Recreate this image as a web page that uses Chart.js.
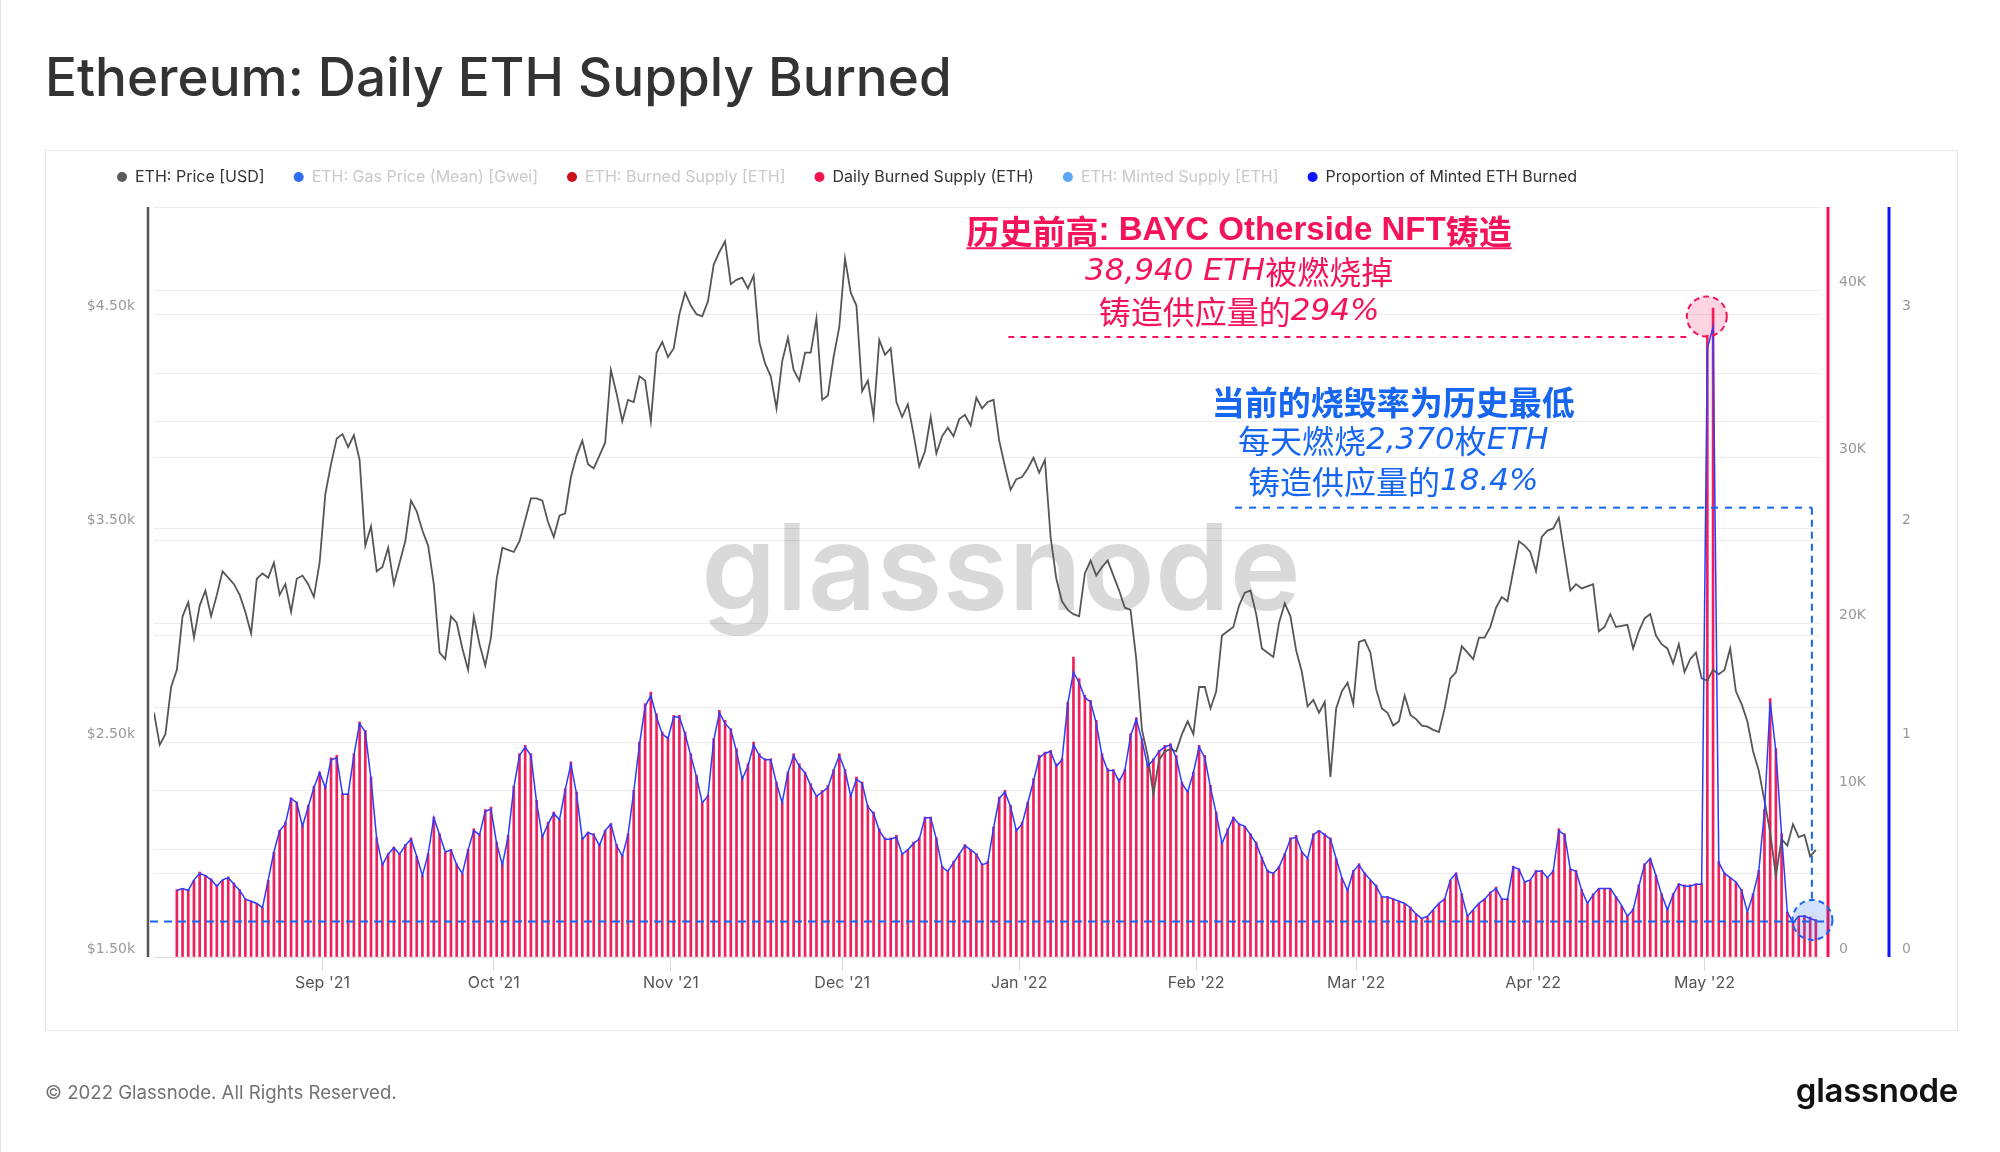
<!DOCTYPE html>
<html>
<head>
<meta charset="utf-8">
<title>Ethereum: Daily ETH Supply Burned</title>
<script src="https://cdn.jsdelivr.net/npm/chart.js@4.4.1/dist/chart.umd.min.js"></script>
<style>
    html, body { margin: 0; padding: 0; background: #fff; }
    body { width: 2000px; height: 1152px; position: relative; overflow: hidden; font-family: Inter, "Noto Sans", sans-serif; }
    .page-edge { position: absolute; left: 0; top: 0; width: 1px; height: 1152px; background: #e2e2e2; }
    .title { position: absolute; left: 45px; top: 50px; font-size: 53px; line-height: 54px; font-weight: 500; color: #333; white-space: nowrap; }
    .card { position: absolute; left: 45px; top: 150px; width: 1911px; height: 879px; border: 1px solid #e6e6e6; }
    .chart-wrap { position: absolute; left: 0; top: 0; width: 2000px; height: 1152px; }
    .copyright { position: absolute; left: 45px; top: 1081px; font-size: 18.6px; line-height: 22px; color: #737373; white-space: nowrap; }
    .logo { position: absolute; right: 42px; top: 1070px; font-size: 33px; line-height: 40px; font-weight: 600; color: #111; letter-spacing: -0.3px; }
</style>
</head>
<body>
<div class="page-edge"></div>
<div class="title">Ethereum: Daily ETH Supply Burned</div>
<div class="card"></div>
<div class="chart-wrap"><canvas id="burnChart" width="2000" height="1152"></canvas></div>
<div class="copyright">© 2022 Glassnode. All Rights Reserved.</div>
<div class="logo">glassnode</div>

<script>
// Data (daily, Aug 2021 - May 2022)

// ETH price in USD, one value per day starting 2021-08-02
const priceStartDate = '2021-08-02';
const priceUsd = [
    2640, 2490, 2540, 2760, 2840, 3090, 3155, 2990, 3140, 3210,
    3090, 3190, 3300, 3270, 3240, 3190, 3110, 3010, 3265, 3290,
    3270, 3340, 3190, 3240, 3110, 3265, 3280, 3240, 3180, 3340,
    3660, 3800, 3920, 3940, 3880, 3935, 3820, 3420, 3510, 3300,
    3320, 3410, 3240, 3340, 3440, 3630, 3580, 3490, 3420, 3240,
    2920, 2890, 3090, 3060, 2940, 2840, 3090, 2960, 2860, 2990,
    3265, 3410, 3400, 3390, 3440, 3540, 3640, 3640, 3630, 3530,
    3460, 3560, 3570, 3740, 3840, 3910, 3800, 3780, 3840, 3900,
    4240, 4130, 4000, 4100, 4090, 4210, 4190, 4000, 4320, 4370,
    4300, 4340, 4500, 4600, 4540, 4500, 4490, 4560, 4730, 4790,
    4840, 4640, 4660, 4670, 4620, 4680, 4370, 4270, 4210, 4060,
    4280, 4390, 4240, 4190, 4320, 4320, 4480, 4100, 4120, 4300,
    4440, 4760, 4600, 4540, 4140, 4190, 4020, 4380, 4310, 4340,
    4090, 4020, 4080, 3940, 3790, 3860, 4020, 3850, 3930, 3970,
    3930, 4010, 4030, 3980, 4110, 4060, 4090, 4100, 3910, 3790,
    3680, 3730, 3740, 3780, 3830, 3760, 3820, 3460, 3265, 3160,
    3120, 3100, 3090, 3290, 3350, 3280, 3320, 3350, 3280, 3210,
    3130, 3120, 2890, 2560, 2440, 2260, 2420, 2460, 2470, 2460,
    2540, 2600, 2540, 2760, 2760, 2660, 2740, 3000, 3020, 3040,
    3140, 3200, 3210, 3100, 2940, 2920, 2900, 3060, 3150, 3090,
    2930, 2830, 2670, 2700, 2640, 2690, 2340, 2660, 2740, 2780,
    2680, 2970, 2980, 2920, 2750, 2660, 2640, 2580, 2600, 2720,
    2630, 2610, 2580, 2575, 2560, 2550, 2660, 2800, 2830, 2950,
    2920, 2890, 2990, 2990, 3040, 3130, 3180, 3160, 3300, 3440,
    3420, 3390, 3300, 3460, 3490, 3500, 3550, 3380, 3210, 3240,
    3220, 3230, 3240, 3020, 3040, 3100, 3040, 3045, 3050, 2940,
    3020, 3080, 3100, 3000, 2960, 2940, 2870, 2960, 2830, 2890,
    2920, 2800, 2790, 2840, 2820, 2840, 2940, 2740, 2680, 2600,
    2460, 2370, 2230, 2080, 1880, 2050, 2020, 2120, 2060, 2070,
    1970, 2000
];

// Daily burned supply in ETH, one value per day starting 2021-08-06
const burnStartDate = '2021-08-06';
const dailyBurnedEth = [
    4040, 4100, 4050, 4600, 5100, 4900, 4700, 4330, 4600, 4800,
    4450, 4050, 3480, 3350, 3200, 2950, 4600, 6300, 7600, 8100,
    9550, 9300, 7900, 9100, 10260, 11100, 10260, 11950, 12100, 9800,
    9800, 12200, 14100, 13600, 10800, 7150, 5600, 6200, 6600, 6200,
    6750, 7150, 6050, 4900, 6200, 8400, 7400, 6300, 6450, 5600,
    5000, 6450, 7700, 7400, 8850, 9000, 6900, 5600, 7300, 10260,
    12200, 12700, 12200, 9400, 7300, 8100, 8700, 8250, 10100, 11700, 9900,
    7150, 7500, 7400, 6800, 7600, 8000, 6750, 6100, 7400, 10000,
    12900, 15200, 15900, 14600, 13500, 13200, 14500, 14500, 13500, 12200,
    10900, 9300, 9700, 13100, 14800, 14200, 13700, 12500, 10800, 11600,
    12900, 12200, 11900, 11900, 10500, 9300, 11100, 12200, 11600, 11100,
    10400, 9700, 10000, 10300, 11250, 12200, 11250, 9700, 10800, 10500,
    9100, 8700, 7700, 7150, 7150, 7300, 6200, 6450, 6900, 7150,
    8400, 8400, 7150, 5450, 5200, 5750, 6200, 6750, 6450, 6200,
    5600, 5750, 7800,
    9600, 10000, 9100, 7700, 8100, 9300, 10700, 12100, 12300, 12400,
    11600, 11900, 15300, 18000, 16700, 15700, 15400, 14200, 12200, 11300,
    11250, 10700, 11250, 13400, 14350, 13100, 11600, 11900, 12400, 12700,
    12800, 12100, 10500, 10000, 11100, 12700, 12100, 10300, 8700, 6900,
    7700, 8400, 8000, 7850, 7400, 6900, 6000, 5200, 5050, 5450,
    6200, 7150, 7300, 6300, 5900, 7400, 7600, 7400, 7150, 5900,
    4750, 4050, 5200, 5600, 5050, 4600, 4330, 3630, 3630, 3500,
    3350, 3200, 3000,
    2600, 2300, 2400, 2800, 3200, 3500, 4600, 5050, 3800, 2500,
    2800, 3200, 3500, 3900, 4200, 3500, 3500, 5450, 5300, 4500,
    4600, 5200, 5200, 4750, 5200, 7700, 7400, 5300, 5200, 4050,
    3200, 3800, 4100, 4100, 4100, 3630, 3050, 2500, 2900, 4330,
    5600, 5900, 4900, 3800, 2900, 3800, 4400, 4330, 4330, 4400,
    4400, 37300, 38940, 5740, 5050, 4750, 4500, 4050, 2700, 3800,
    5200, 8850, 15500, 12500, 7400, 2700, 2100, 2400, 2500, 2400, 2250
];

// Proportion of minted ETH burned (1 = 100%), same days as dailyBurnedEth
const burnedShareOfMinted = [
    0.31, 0.32, 0.31, 0.36, 0.39, 0.38, 0.36, 0.33, 0.36, 0.37,
    0.34, 0.31, 0.27, 0.26, 0.25, 0.23, 0.36, 0.49, 0.59, 0.62,
    0.74, 0.72, 0.61, 0.70, 0.79, 0.86, 0.79, 0.92, 0.93, 0.76,
    0.76, 0.94, 1.09, 1.05, 0.83, 0.55, 0.43, 0.48, 0.51, 0.48,
    0.52, 0.55, 0.47, 0.38, 0.48, 0.65, 0.57, 0.49, 0.50, 0.43,
    0.39, 0.50, 0.59, 0.57, 0.68, 0.69, 0.53, 0.43, 0.56, 0.79,
    0.94, 0.98, 0.94, 0.72, 0.56, 0.62, 0.67, 0.64, 0.78, 0.90, 0.76,
    0.55, 0.58, 0.57, 0.52, 0.59, 0.62, 0.52, 0.47, 0.57, 0.77,
    0.99, 1.17, 1.22, 1.12, 1.04, 1.02, 1.12, 1.12, 1.04, 0.94,
    0.84, 0.72, 0.75, 1.01, 1.14, 1.09, 1.06, 0.96, 0.83, 0.89,
    0.99, 0.94, 0.92, 0.92, 0.81, 0.72, 0.86, 0.94, 0.89, 0.86,
    0.80, 0.75, 0.77, 0.79, 0.87, 0.94, 0.87, 0.75, 0.83, 0.81,
    0.70, 0.67, 0.59, 0.55, 0.55, 0.56, 0.48, 0.50, 0.53, 0.55,
    0.65, 0.65, 0.55, 0.42, 0.40, 0.44, 0.48, 0.52, 0.50, 0.48,
    0.43, 0.44, 0.60,
    0.74, 0.77, 0.70, 0.59, 0.62, 0.72, 0.82, 0.93, 0.95, 0.96,
    0.89, 0.92, 1.18, 1.33, 1.28, 1.21, 1.19, 1.09, 0.94, 0.87,
    0.87, 0.82, 0.87, 1.03, 1.11, 1.01, 0.89, 0.92, 0.96, 0.98,
    0.99, 0.93, 0.81, 0.77, 0.86, 0.98, 0.93, 0.79, 0.67, 0.53,
    0.59, 0.65, 0.62, 0.61, 0.57, 0.53, 0.46, 0.40, 0.39, 0.42,
    0.48, 0.55, 0.56, 0.49, 0.46, 0.57, 0.59, 0.57, 0.55, 0.46,
    0.37, 0.31, 0.40, 0.43, 0.39, 0.36, 0.33, 0.28, 0.28, 0.27,
    0.26, 0.25, 0.23,
    0.20, 0.18, 0.19, 0.22, 0.25, 0.27, 0.36, 0.39, 0.29, 0.19,
    0.22, 0.25, 0.27, 0.30, 0.32, 0.27, 0.27, 0.42, 0.41, 0.35,
    0.36, 0.40, 0.40, 0.37, 0.40, 0.59, 0.57, 0.41, 0.40, 0.31,
    0.25, 0.29, 0.32, 0.32, 0.32, 0.28, 0.24, 0.19, 0.22, 0.33,
    0.43, 0.46, 0.38, 0.29, 0.22, 0.29, 0.34, 0.33, 0.33, 0.34,
    0.34, 2.84, 2.94, 0.44, 0.39, 0.37, 0.35, 0.31, 0.21, 0.29,
    0.40, 0.68, 1.19, 0.96, 0.57, 0.21, 0.16, 0.19, 0.19, 0.18, 0.17
];

// X axis month ticks
const monthTickDates = ['2021-09-01', '2021-10-01', '2021-11-01', '2021-12-01', '2022-01-01',
    '2022-02-01', '2022-03-01', '2022-04-01', '2022-05-01'];
const monthTickLabels = ["Sep '21", "Oct '21", "Nov '21", "Dec '21", "Jan '22",
    "Feb '22", "Mar '22", "Apr '22", "May '22"];

// Legend entries (greyed ones are switched off in the original)
const legendLabels = ['ETH: Price [USD]', 'ETH: Gas Price (Mean) [Gwei]', 'ETH: Burned Supply [ETH]',
    'Daily Burned Supply (ETH)', 'ETH: Minted Supply [ETH]', 'Proportion of Minted ETH Burned'];
const legendColors = ['#5a5a5a', '#2f6ff0', '#c8101a', '#f5134f', '#5aa5f2', '#0a14ff'];
const legendActive = [true, false, false, true, false, true];

// Day number counted from 2021-08-01
function dayIndex(dateStr) {
    return (Date.parse(dateStr + 'T00:00:00Z') - Date.parse('2021-08-01T00:00:00Z')) / 86400000;
}

// Daily values are drawn at midday
function toPoints(values, startDate) {
    const start = dayIndex(startDate);
    return values.map((v, i) => ({ x: start + i + 0.5, y: v }));
}

const PINK = '#f5135a';
const BLUE = '#1766f2';

function dashedLine(ctx, x1, y1, x2, y2, color, dash, width) {
    ctx.save();
    ctx.strokeStyle = color;
    ctx.lineWidth = width;
    ctx.setLineDash(dash);
    ctx.beginPath();
    ctx.moveTo(x1, y1);
    ctx.lineTo(x2, y2);
    ctx.stroke();
    ctx.restore();
}

function dashedCircle(ctx, x, y, r, fill, stroke) {
    ctx.save();
    ctx.beginPath();
    ctx.arc(x, y, r, 0, Math.PI * 2);
    ctx.fillStyle = fill;
    ctx.fill();
    ctx.strokeStyle = stroke;
    ctx.lineWidth = 2;
    ctx.setLineDash([6, 4]);
    ctx.stroke();
    ctx.restore();
}

// Chinese runs upright, latin runs in DejaVu (oblique unless bold)
function mixedText(ctx, text, cx, cy, size, color, bold) {
    const runs = text.match(/[\u3400-\u9fff]+|[^\u3400-\u9fff]+/g);
    const fontFor = run => {
        const cjk = /[\u3400-\u9fff]/.test(run);
        if (bold) {
            return cjk ? `bold ${size}px "Noto Sans CJK SC"` : `bold ${size}px "Liberation Sans"`;
        }
        return cjk ? `${size}px "Noto Sans CJK SC"` : `italic ${size - 1}px "DejaVu Sans"`;
    };
    ctx.save();
    ctx.textBaseline = 'middle';
    ctx.textAlign = 'left';
    ctx.fillStyle = color;
    let total = 0;
    const widths = runs.map(run => {
        ctx.font = fontFor(run);
        const w = ctx.measureText(run).width;
        total += w;
        return w;
    });
    let x = cx - total / 2;
    runs.forEach((run, i) => {
        ctx.font = fontFor(run);
        ctx.fillText(run, x, cy);
        x += widths[i];
    });
    ctx.restore();
    return total;
}

// Big grey watermark behind the series
const watermark = {
    id: 'watermark',
    beforeDatasetsDraw(chart) {
        const ctx = chart.ctx;
        ctx.save();
        ctx.font = '600 120px Inter';
        ctx.fillStyle = 'rgba(0, 0, 0, 0.15)';
        ctx.textAlign = 'center';
        ctx.textBaseline = 'alphabetic';
        ctx.fillText('glassnode', 1001, 610);
        ctx.restore();
    }
};

// Coloured vertical axis lines
const axisLines = {
    id: 'axisLines',
    afterDatasetsDraw(chart) {
        const { ctx, chartArea } = chart;
        const line = (x, color, w) => {
            ctx.save();
            ctx.strokeStyle = color;
            ctx.lineWidth = w;
            ctx.beginPath();
            ctx.moveTo(x, chartArea.top);
            ctx.lineTo(x, chartArea.bottom);
            ctx.stroke();
            ctx.restore();
        };
        line(chartArea.left - 6, '#555', 2.5);
        line(chartArea.right + 7, '#f5134f', 3);
        line(chart.scales.yRatio.left, '#0a14ff', 3);
    }
};

// Custom legend row
const legendRow = {
    id: 'legendRow',
    afterDraw(chart) {
        const ctx = chart.ctx;
        const y = 177;
        let x = 117;
        ctx.save();
        ctx.font = '16px Inter';
        ctx.textBaseline = 'middle';
        legendLabels.forEach((label, i) => {
            ctx.fillStyle = legendColors[i];
            ctx.beginPath();
            ctx.arc(x + 5, y, 5, 0, Math.PI * 2);
            ctx.fill();
            ctx.fillStyle = legendActive[i] ? '#333' : '#c9c9c9';
            ctx.fillText(label, x + 18, y);
            x += 18 + ctx.measureText(label).width + 29;
        });
        ctx.restore();
    }
};

// Hand-drawn style notes on the chart
const chartNotes = {
    id: 'chartNotes',
    afterDraw(chart) {
        const { ctx, chartArea, scales } = chart;
        const px = d => scales.x.getPixelForValue(d);
        const pBurn = v => scales.yBurn.getPixelForValue(v);
        const pRatio = v => scales.yRatio.getPixelForValue(v);

        // Record high (Otherside mint)
        dashedLine(ctx, px(151.1), pBurn(37200), px(270.5), pBurn(37200), PINK, [6, 6], 2);
        dashedCircle(ctx, px(273.4), pBurn(38430), 20, 'rgba(245, 19, 90, 0.18)', PINK);
        const pinkX = px(191.5);
        const titleY = pBurn(43550);
        const w = mixedText(ctx, '历史前高: BAYC Otherside NFT铸造', pinkX, titleY, 33, PINK, true);
        dashedLine(ctx, pinkX - w / 2, titleY + 17, pinkX + w / 2, titleY + 17, PINK, [], 2);
        mixedText(ctx, '38,940 ETH被燃烧掉', pinkX, pBurn(41100), 32, PINK, false);
        mixedText(ctx, '铸造供应量的294%', pinkX, pBurn(38700), 32, PINK, false);

        // Current burn rate is the lowest
        const blueX = px(218.5);
        mixedText(ctx, '当前的烧毁率为历史最低', blueX, pRatio(2.59), 33, BLUE, true);
        mixedText(ctx, '每天燃烧2,370枚ETH', blueX, pRatio(2.408), 32, BLUE, false);
        mixedText(ctx, '铸造供应量的18.4%', blueX, pRatio(2.217), 32, BLUE, false);
        dashedLine(ctx, px(190.8), pRatio(2.097), px(291.8), pRatio(2.097), BLUE, [7, 7], 2);
        dashedLine(ctx, px(291.8), pRatio(2.097), px(291.8), pRatio(0.173) - 20, BLUE, [7, 5], 2);
        dashedLine(ctx, chartArea.left - 4, pRatio(0.166), chartArea.right + 6, pRatio(0.166), BLUE, [8, 6], 2);
        dashedCircle(ctx, px(291.9), pRatio(0.173), 20, 'rgba(23, 102, 242, 0.2)', BLUE);
    }
};

const tickFont = { family: 'DejaVu Sans', size: 14 };

// Initialize chart
function initBurnChart() {
    const ctx = document.getElementById('burnChart');
    const monthTickDays = monthTickDates.map(dayIndex);

    new Chart(ctx, {
        type: 'line',
        data: {
            datasets: [
                {
                    label: 'Proportion of Minted ETH Burned',
                    data: toPoints(burnedShareOfMinted, burnStartDate),
                    yAxisID: 'yRatio',
                    borderColor: '#2a3cff',
                    borderWidth: 1.5,
                    pointRadius: 0,
                    tension: 0,
                    order: 1
                },
                {
                    label: 'ETH: Price [USD]',
                    data: toPoints(priceUsd, priceStartDate),
                    yAxisID: 'yPrice',
                    borderColor: '#565656',
                    borderWidth: 1.8,
                    pointRadius: 0,
                    tension: 0,
                    order: 2
                },
                {
                    type: 'bar',
                    label: 'Daily Burned Supply (ETH)',
                    data: toPoints(dailyBurnedEth, burnStartDate),
                    yAxisID: 'yBurn',
                    backgroundColor: '#f2205a',
                    barThickness: 2,
                    order: 3
                }
            ]
        },
        options: {
            responsive: false,
            devicePixelRatio: 1,
            animation: false,
            layout: { padding: { left: 46, right: 42, top: 207, bottom: 150 } },
            plugins: {
                legend: { display: false },
                tooltip: { enabled: false }
            },
            scales: {
                x: {
                    type: 'linear',
                    min: 1.5,
                    max: 293.4,
                    offset: false,
                    afterBuildTicks: scale => {
                        scale.ticks = monthTickDays.map(v => ({ value: v }));
                    },
                    afterFit: scale => { scale.height = 45; },
                    grid: { offset: false, drawOnChartArea: false, drawTicks: true, tickLength: 14, color: '#dcdcdc' },
                    border: { display: true, color: '#dcdcdc' },
                    ticks: {
                        autoSkip: false,
                        maxRotation: 0,
                        padding: 3,
                        color: '#555',
                        font: { family: 'Inter', size: 16 },
                        callback: (value, index) => monthTickLabels[index]
                    }
                },
                yPrice: {
                    type: 'linear',
                    position: 'left',
                    min: 1500,
                    max: 5000,
                    afterFit: scale => { scale.width = 108; },
                    grid: { color: '#ececec', drawTicks: false },
                    border: { display: false },
                    ticks: {
                        stepSize: 500,
                        padding: 19,
                        labelOffset: -8,
                        color: '#999',
                        font: tickFont,
                        callback: v => ((v - 1500) % 1000 === 0 ? '$' + (v / 1000).toFixed(2) + 'k' : '')
                    }
                },
                yBurn: {
                    type: 'linear',
                    position: 'right',
                    weight: 0,
                    min: 0,
                    max: 45000,
                    afterFit: scale => { scale.width = 68; },
                    grid: { color: '#ececec', drawTicks: false },
                    border: { display: false },
                    ticks: {
                        stepSize: 5000,
                        padding: 18,
                        labelOffset: -8,
                        color: '#999',
                        font: tickFont,
                        callback: v => (v % 10000 === 0 ? (v === 0 ? '0' : v / 1000 + 'K') : '')
                    }
                },
                yRatio: {
                    type: 'linear',
                    position: 'right',
                    weight: 1,
                    min: 0,
                    max: 3.5,
                    afterFit: scale => { scale.width = 69; },
                    grid: { display: false, drawTicks: false },
                    border: { display: false },
                    ticks: {
                        stepSize: 0.5,
                        padding: 13,
                        labelOffset: -8,
                        color: '#999',
                        font: tickFont,
                        callback: v => (Number.isInteger(v) ? String(v) : '')
                    }
                }
            }
        },
        plugins: [watermark, axisLines, chartNotes, legendRow]
    });
}

initBurnChart();
</script>
</body>
</html>
